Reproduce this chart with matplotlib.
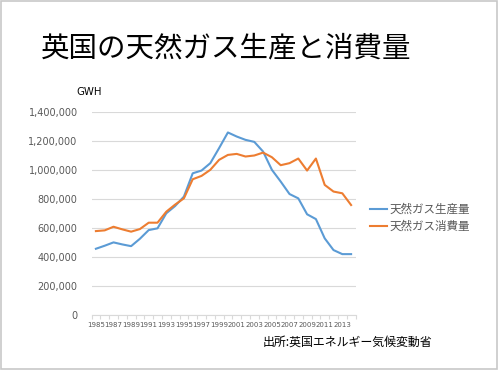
import numpy as np
import matplotlib
matplotlib.use("Agg")
import matplotlib.pyplot as plt
from matplotlib.patches import Rectangle
from matplotlib.ticker import FuncFormatter, FixedLocator

plt.rcParams['font.family'] = ['Noto Sans CJK JP', 'DejaVu Sans']

# データ (GWH)
years = np.arange(1985, 2015)
production = [459000, 480000, 503000, 489000, 477000, 528000, 588000, 600000,
              704000, 754000, 819000, 980000, 999000, 1050000, 1154000, 1262000,
              1234000, 1211000, 1197000, 1130000, 1004000, 923000, 837000, 807000,
              697000, 664000, 531000, 450000, 422000, 422000]
consumption = [581000, 586000, 611000, 593000, 577000, 595000, 639000, 639000,
               715000, 764000, 807000, 939000, 962000, 1004000, 1073000, 1107000,
               1114000, 1096000, 1103000, 1123000, 1091000, 1036000, 1050000, 1082000,
               999000, 1082000, 900000, 854000, 842000, 761000]
label_prod = '天然ガス生産量'
label_cons = '天然ガス消費量'
yticks = np.arange(0, 1400001, 200000)
xlabels = np.arange(1985, 2015, 2)

grey_txt = '#595959'
grid_c = '#d9d9d9'

fig = plt.figure(figsize=(5, 3.7), dpi=100)
fig.patches.append(Rectangle((0.001, 0.003), 0.992, 0.995, transform=fig.transFigure,
                             fill=False, edgecolor='#c8c8c8', linewidth=1.2))

ax = fig.add_axes([0.183, 0.148, 0.528, 0.548])
ax.plot(years, production, color='#5B9BD5', lw=1.5, label=label_prod)
ax.plot(years, consumption, color='#ED7D31', lw=1.5, label=label_cons)

ax.set_xlim(1984.5, 2014.5)
ax.set_ylim(0, 1400000)
ax.set_yticks(yticks)
ax.yaxis.set_major_formatter(FuncFormatter(lambda v, p: f'{int(v):,}'))
ax.set_xticks(xlabels)
ax.xaxis.set_minor_locator(FixedLocator(np.arange(1984.5, 2015, 1)))
ax.tick_params(axis='x', which='major', length=0, pad=5, labelsize=5,
               labelcolor=grey_txt)
ax.tick_params(axis='x', which='minor', length=3, color=grid_c, width=0.8)
ax.tick_params(axis='y', length=0, pad=10, labelsize=7, labelcolor=grey_txt)
for lab in ax.get_xticklabels():
    lab.set_family(['DejaVu Sans'])
for lab in ax.get_yticklabels():
    lab.set_family(['DejaVu Sans'])

ax.grid(axis='y', color=grid_c, lw=0.8)
ax.set_axisbelow(True)
for s in ['top', 'right', 'left']:
    ax.spines[s].set_visible(False)
ax.spines['bottom'].set_color(grid_c)
ax.spines['bottom'].set_linewidth(0.8)

fig.text(0.082, 0.870, '英国の天然ガス生産と消費量', fontsize=20.5, color='black',
         va='center', ha='left')
fig.text(0.152, 0.751, 'GWH', fontsize=7.3, color='black', va='center',
         family=['DejaVu Sans'])
fig.text(0.526, 0.076, '出所:英国エネルギー気候変動省', fontsize=8.6, color='black',
         va='center', ha='left')

leg = ax.legend(loc='center left', bbox_to_anchor=(1.015, 0.48), frameon=False,
                fontsize=8.3, handlelength=1.5, handletextpad=0.2, labelspacing=0.35)
for t in leg.get_texts():
    t.set_color(grey_txt)

fig.savefig('out.png', dpi=100)
